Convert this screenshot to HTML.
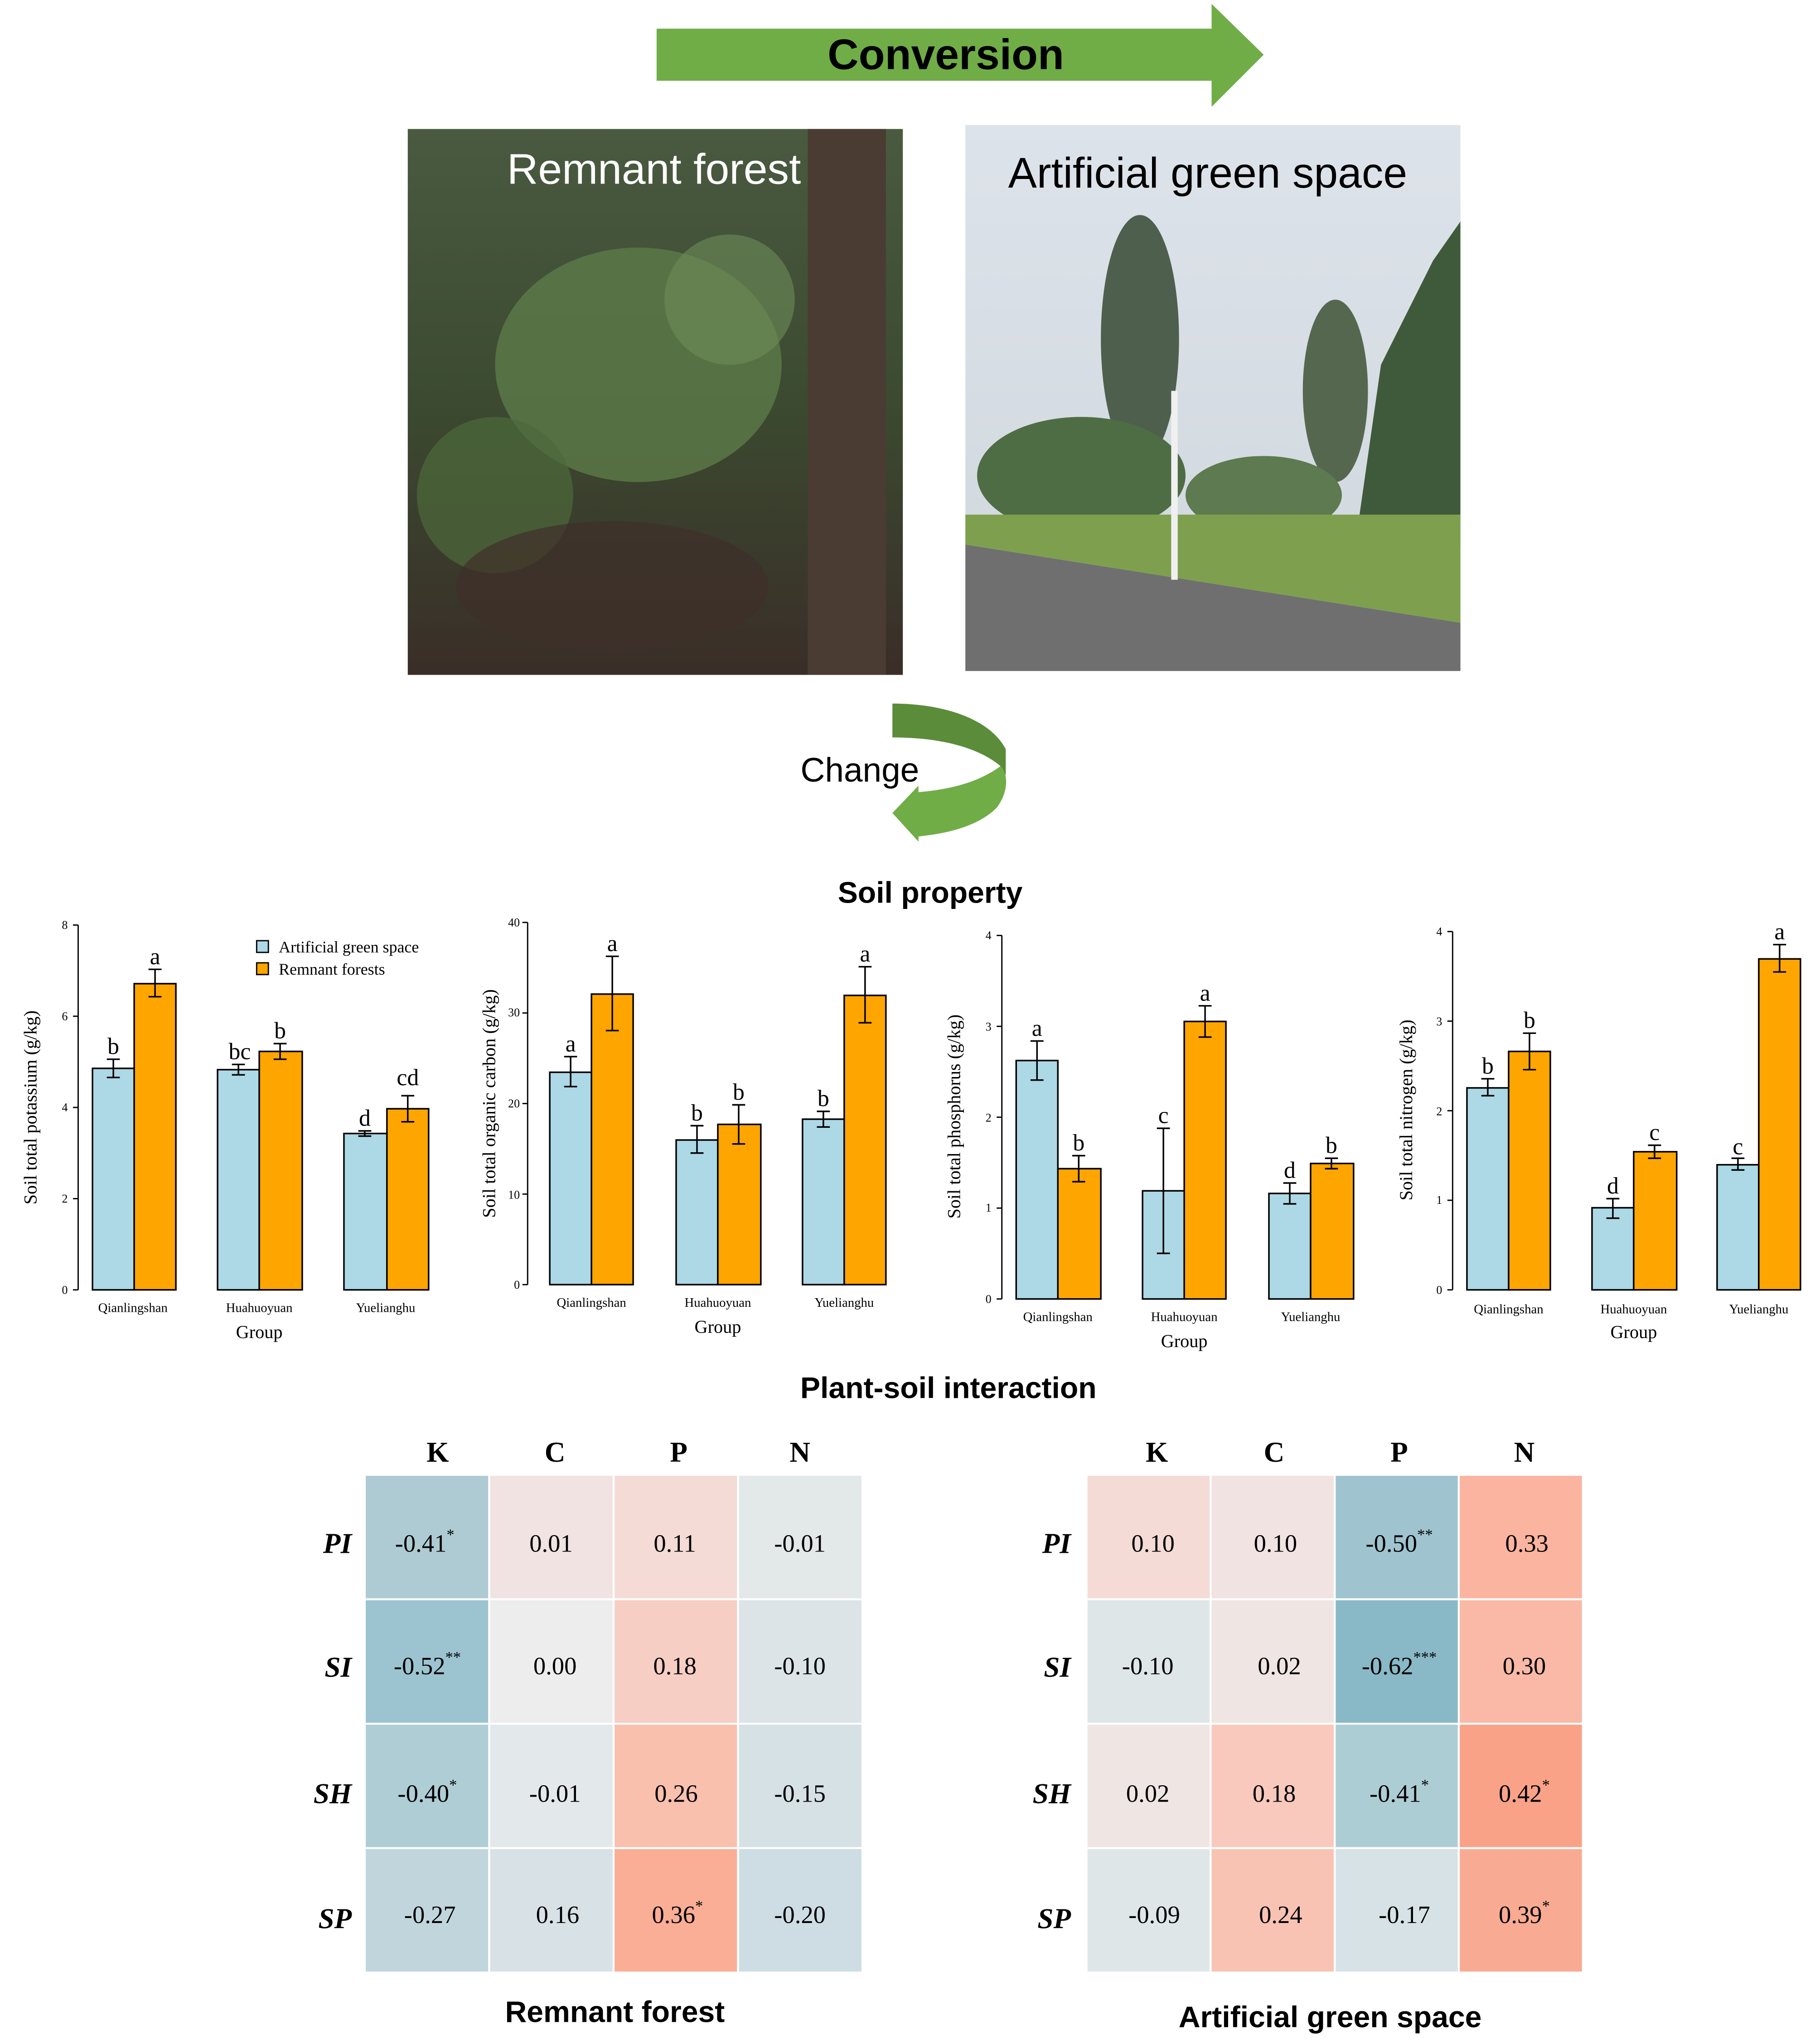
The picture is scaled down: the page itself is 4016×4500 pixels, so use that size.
<!DOCTYPE html>
<html><head><meta charset="utf-8"><style>html,body{margin:0;padding:0;background:#fff}svg{display:block}</style></head><body>
<svg xmlns="http://www.w3.org/2000/svg" width="4016" height="4500" viewBox="0 0 1397 1565" preserveAspectRatio="none">
<rect width="1397" height="1565" fill="#fff"/>
<polygon points="504,22 930,22 930,3 970,42 930,82 930,62 504,62" fill="#70ad47"/>
<text x="726" y="53" font-family="Liberation Sans, sans-serif" font-weight="bold" font-size="33" text-anchor="middle">Conversion</text>
<defs>
<linearGradient id="f1" x1="0" y1="0" x2="0" y2="1"><stop offset="0" stop-color="#4a5a40"/><stop offset="0.5" stop-color="#3b4a30"/><stop offset="1" stop-color="#3a2e28"/></linearGradient>
<linearGradient id="sky" x1="0" y1="0" x2="0" y2="1"><stop offset="0" stop-color="#dde3ea"/><stop offset="1" stop-color="#cfd6dc"/></linearGradient>
</defs>
<rect x="313" y="99" width="380" height="419" fill="url(#f1)"/>
<rect x="620" y="99" width="60" height="419" fill="#4a3c32"/>
<ellipse cx="490" cy="280" rx="110" ry="90" fill="#5c7a48" opacity="0.8"/>
<ellipse cx="380" cy="380" rx="60" ry="60" fill="#4d6a3a" opacity="0.7"/>
<ellipse cx="560" cy="230" rx="50" ry="50" fill="#6e8c58" opacity="0.6"/>
<ellipse cx="470" cy="450" rx="120" ry="50" fill="#3e2f29" opacity="0.7"/>
<text x="502" y="141" font-family="Liberation Sans, sans-serif" font-size="33" fill="#fff" text-anchor="middle">Remnant forest</text>
<rect x="741" y="96" width="380" height="419" fill="url(#sky)"/>
<ellipse cx="875" cy="260" rx="30" ry="95" fill="#4f5f4e"/>
<ellipse cx="1025" cy="300" rx="25" ry="70" fill="#55684f"/>
<polygon points="1121,170 1121,420 1040,420 1060,280 1100,200" fill="#3f5a3a"/>
<ellipse cx="830" cy="365" rx="80" ry="45" fill="#4e6d44"/>
<ellipse cx="970" cy="380" rx="60" ry="30" fill="#5d7a50"/>
<polygon points="741,395 1121,395 1121,478 741,418" fill="#7ea04e"/>
<polygon points="741,418 1121,478 1121,515 741,515" fill="#6f6f70"/>
<rect x="899" y="300" width="5" height="145" fill="#f0f0f0"/>
<text x="927" y="144" font-family="Liberation Sans, sans-serif" font-size="33" fill="#000" text-anchor="middle">Artificial green space</text>
<path d="M685,540 L685,566 C720,566 750,573 768,588 L772,595 L772,575 C760,552 725,540 685,540 Z" fill="#5b8c3a"/>
<path d="M768,588 C775,595 773,610 765,620 C750,635 725,640 705,642 L705,646 L685,624 L705,603 L705,608 C730,606 752,600 768,588 Z" fill="#70ad47"/>
<text x="660" y="600" font-family="Liberation Sans, sans-serif" font-size="26" text-anchor="middle">Change</text>
<text x="714" y="693" font-family="Liberation Sans, sans-serif" font-weight="bold" font-size="23" text-anchor="middle">Soil property</text>

<g font-family="Liberation Serif, serif" stroke-width="1">
<g>
<line x1="60" y1="710" x2="60" y2="990" stroke="#000"/>
<g stroke="#000"><line x1="56" y1="710" x2="60" y2="710"/><line x1="56" y1="780" x2="60" y2="780"/><line x1="56" y1="850" x2="60" y2="850"/><line x1="56" y1="920" x2="60" y2="920"/><line x1="56" y1="990" x2="60" y2="990"/></g>
<g font-size="9" text-anchor="end"><text x="52" y="713">8</text><text x="52" y="783">6</text><text x="52" y="853">4</text><text x="52" y="923">2</text><text x="52" y="993">0</text></g>
<text transform="translate(28,850) rotate(-90)" font-size="14" text-anchor="middle">Soil total potassium (g/kg)</text>
<g stroke="#000" stroke-width="1.2">
<rect x="71" y="820" width="32" height="170" fill="#add8e6"/><rect x="103" y="755" width="32" height="235" fill="#ffa500"/>
<rect x="167" y="821" width="32" height="169" fill="#add8e6"/><rect x="199" y="807" width="33" height="183" fill="#ffa500"/>
<rect x="264" y="870" width="33" height="120" fill="#add8e6"/><rect x="297" y="851" width="32" height="139" fill="#ffa500"/>
<path d="M87,813V827M82,813H92M82,827H92 M119,744V765M114,744H124M114,765H124 M183,817V825M178,817H188M178,825H188 M215,801V813M210,801H220M210,813H220 M280,868V872M275,868H285M275,872H285 M313,841V861M308,841H318M308,861H318" fill="none"/>
</g>
<g font-size="18" text-anchor="middle"><text x="87" y="809">b</text><text x="119" y="740">a</text><text x="184" y="813">bc</text><text x="215" y="797">b</text><text x="280" y="864">d</text><text x="313" y="833">cd</text></g>
<g font-size="10" text-anchor="middle"><text x="102" y="1007">Qianlingshan</text><text x="199" y="1007">Huahuoyuan</text><text x="296" y="1007">Yuelianghu</text></g>
<text x="199" y="1027" font-size="14" text-anchor="middle">Group</text>
<rect x="197" y="722" width="9" height="9" fill="#add8e6" stroke="#000"/><rect x="197" y="739" width="9" height="9" fill="#ffa500" stroke="#000"/>
<text x="214" y="731" font-size="12.5">Artificial green space</text><text x="214" y="748" font-size="12.5">Remnant forests</text>
</g>
<g>
<line x1="405" y1="708" x2="405" y2="986" stroke="#000"/>
<g stroke="#000"><line x1="401" y1="708" x2="405" y2="708"/><line x1="401" y1="777.5" x2="405" y2="777.5"/><line x1="401" y1="847" x2="405" y2="847"/><line x1="401" y1="916.5" x2="405" y2="916.5"/><line x1="401" y1="986" x2="405" y2="986"/></g>
<g font-size="9" text-anchor="end"><text x="399" y="711">40</text><text x="399" y="780">30</text><text x="399" y="850">20</text><text x="399" y="920">10</text><text x="399" y="989">0</text></g>
<text transform="translate(380,847) rotate(-90)" font-size="14" text-anchor="middle">Soil total organic carbon (g/kg)</text>
<g stroke="#000" stroke-width="1.2">
<rect x="422" y="823" width="32" height="163" fill="#add8e6"/><rect x="454" y="763" width="32" height="223" fill="#ffa500"/>
<rect x="519" y="875" width="32" height="111" fill="#add8e6"/><rect x="551" y="863" width="33" height="123" fill="#ffa500"/>
<rect x="616" y="859" width="32" height="127" fill="#add8e6"/><rect x="648" y="764" width="32" height="222" fill="#ffa500"/>
<path d="M438,811V834M433,811H443M433,834H443 M470,734V791M465,734H475M465,791H475 M535,864V885M530,864H540M530,885H540 M567,848V878M562,848H572M562,878H572 M632,853V865M627,853H637M627,865H637 M664,742V785M659,742H669M659,785H669" fill="none"/>
</g>
<g font-size="18" text-anchor="middle"><text x="438" y="807">a</text><text x="470" y="730">a</text><text x="535" y="860">b</text><text x="567" y="844">b</text><text x="632" y="849">b</text><text x="664" y="738">a</text></g>
<g font-size="10" text-anchor="middle"><text x="454" y="1003">Qianlingshan</text><text x="551" y="1003">Huahuoyuan</text><text x="648" y="1003">Yuelianghu</text></g>
<text x="551" y="1023" font-size="14" text-anchor="middle">Group</text>
</g>
<g>
<line x1="769" y1="718" x2="769" y2="997" stroke="#000"/>
<g stroke="#000"><line x1="765" y1="718" x2="769" y2="718"/><line x1="765" y1="787.75" x2="769" y2="787.75"/><line x1="765" y1="857.5" x2="769" y2="857.5"/><line x1="765" y1="927.25" x2="769" y2="927.25"/><line x1="765" y1="997" x2="769" y2="997"/></g>
<g font-size="9" text-anchor="end"><text x="761" y="721">4</text><text x="761" y="791">3</text><text x="761" y="861">2</text><text x="761" y="930">1</text><text x="761" y="1000">0</text></g>
<text transform="translate(737,857) rotate(-90)" font-size="14" text-anchor="middle">Soil total phosphorus (g/kg)</text>
<g stroke="#000" stroke-width="1.2">
<rect x="780" y="814" width="32" height="183" fill="#add8e6"/><rect x="812" y="897" width="33" height="100" fill="#ffa500"/>
<rect x="877" y="914" width="32" height="83" fill="#add8e6"/><rect x="909" y="784" width="32" height="213" fill="#ffa500"/>
<rect x="974" y="916" width="32" height="81" fill="#add8e6"/><rect x="1006" y="893" width="33" height="104" fill="#ffa500"/>
<path d="M796,799V829M791,799H801M791,829H801 M828,887V907M823,887H833M823,907H833 M893,866V962M888,866H898M888,962H898 M925,772V796M920,772H930M920,796H930 M990,908V924M985,908H995M985,924H995 M1022,889V897M1017,889H1027M1017,897H1027" fill="none"/>
</g>
<g font-size="18" text-anchor="middle"><text x="796" y="795">a</text><text x="828" y="883">b</text><text x="893" y="862">c</text><text x="925" y="768">a</text><text x="990" y="904">d</text><text x="1022" y="885">b</text></g>
<g font-size="10" text-anchor="middle"><text x="812" y="1014">Qianlingshan</text><text x="909" y="1014">Huahuoyuan</text><text x="1006" y="1014">Yuelianghu</text></g>
<text x="909" y="1034" font-size="14" text-anchor="middle">Group</text>
</g>
<g>
<line x1="1115" y1="715" x2="1115" y2="990" stroke="#000"/>
<g stroke="#000"><line x1="1111" y1="715" x2="1115" y2="715"/><line x1="1111" y1="783.75" x2="1115" y2="783.75"/><line x1="1111" y1="852.5" x2="1115" y2="852.5"/><line x1="1111" y1="921.25" x2="1115" y2="921.25"/><line x1="1111" y1="990" x2="1115" y2="990"/></g>
<g font-size="9" text-anchor="end"><text x="1107" y="718">4</text><text x="1107" y="787">3</text><text x="1107" y="856">2</text><text x="1107" y="924">1</text><text x="1107" y="993">0</text></g>
<text transform="translate(1084,852) rotate(-90)" font-size="14" text-anchor="middle">Soil total nitrogen (g/kg)</text>
<g stroke="#000" stroke-width="1.2">
<rect x="1126" y="835" width="32" height="155" fill="#add8e6"/><rect x="1158" y="807" width="32" height="183" fill="#ffa500"/>
<rect x="1222" y="927" width="32" height="63" fill="#add8e6"/><rect x="1254" y="884" width="33" height="106" fill="#ffa500"/>
<rect x="1318" y="894" width="32" height="96" fill="#add8e6"/><rect x="1350" y="736" width="32" height="254" fill="#ffa500"/>
<path d="M1142,828V841M1137,828H1147M1137,841H1147 M1174,793V821M1169,793H1179M1169,821H1179 M1238,920V935M1233,920H1243M1233,935H1243 M1270,879V889M1265,879H1275M1265,889H1275 M1334,889V898M1329,889H1339M1329,898H1339 M1366,725V746M1361,725H1371M1361,746H1371" fill="none"/>
</g>
<g font-size="18" text-anchor="middle"><text x="1142" y="824">b</text><text x="1174" y="789">b</text><text x="1238" y="916">d</text><text x="1270" y="875">c</text><text x="1334" y="886">c</text><text x="1366" y="721">a</text></g>
<g font-size="10" text-anchor="middle"><text x="1158" y="1008">Qianlingshan</text><text x="1254" y="1008">Huahuoyuan</text><text x="1350" y="1008">Yuelianghu</text></g>
<text x="1254" y="1027" font-size="14" text-anchor="middle">Group</text>
</g>
</g>

<text x="728" y="1073" font-family="Liberation Sans, sans-serif" font-weight="bold" font-size="23" text-anchor="middle">Plant-soil interaction</text>

<g stroke="#fff" stroke-width="1.5">
<rect x="280" y="1132" width="95.5" height="95.5" fill="#aecbd3"/><rect x="375.5" y="1132" width="95.5" height="95.5" fill="#f0e3e1"/><rect x="471" y="1132" width="95.5" height="95.5" fill="#f4dbd5"/><rect x="566.5" y="1132" width="95.5" height="95.5" fill="#e3e8e9"/>
<rect x="280" y="1227.5" width="95.5" height="95.5" fill="#9cc4d0"/><rect x="375.5" y="1227.5" width="95.5" height="95.5" fill="#ededed"/><rect x="471" y="1227.5" width="95.5" height="95.5" fill="#f6cec4"/><rect x="566.5" y="1227.5" width="95.5" height="95.5" fill="#dce4e7"/>
<rect x="280" y="1323" width="95.5" height="95.5" fill="#afcdd5"/><rect x="375.5" y="1323" width="95.5" height="95.5" fill="#e3e8ea"/><rect x="471" y="1323" width="95.5" height="95.5" fill="#f9c0ae"/><rect x="566.5" y="1323" width="95.5" height="95.5" fill="#d6e1e6"/>
<rect x="280" y="1418.5" width="95.5" height="95.5" fill="#c1d6dc"/><rect x="375.5" y="1418.5" width="95.5" height="95.5" fill="#d8e2e6"/><rect x="471" y="1418.5" width="95.5" height="95.5" fill="#f9ae95"/><rect x="566.5" y="1418.5" width="95.5" height="95.5" fill="#cddde3"/>
</g>
<g stroke="#fff" stroke-width="1.5">
<rect x="834" y="1132" width="95.25" height="95.5" fill="#f4dbd5"/><rect x="929.25" y="1132" width="95.25" height="95.5" fill="#f0e3e1"/><rect x="1024.5" y="1132" width="95.25" height="95.5" fill="#9fc4cf"/><rect x="1119.75" y="1132" width="95.25" height="95.5" fill="#fbb49f"/>
<rect x="834" y="1227.5" width="95.25" height="95.5" fill="#dfe6e8"/><rect x="929.25" y="1227.5" width="95.25" height="95.5" fill="#efe5e3"/><rect x="1024.5" y="1227.5" width="95.25" height="95.5" fill="#89b9c7"/><rect x="1119.75" y="1227.5" width="95.25" height="95.5" fill="#f9b9a6"/>
<rect x="834" y="1323" width="95.25" height="95.5" fill="#efe5e3"/><rect x="929.25" y="1323" width="95.25" height="95.5" fill="#f8c9bc"/><rect x="1024.5" y="1323" width="95.25" height="95.5" fill="#adcdd5"/><rect x="1119.75" y="1323" width="95.25" height="95.5" fill="#f9a287"/>
<rect x="834" y="1418.5" width="95.25" height="95.5" fill="#dfe6e8"/><rect x="929.25" y="1418.5" width="95.25" height="95.5" fill="#f9c3b3"/><rect x="1024.5" y="1418.5" width="95.25" height="95.5" fill="#d6e2e6"/><rect x="1119.75" y="1418.5" width="95.25" height="95.5" fill="#f8ab92"/>
</g>
<g font-family="Liberation Serif, serif" font-size="19" text-anchor="middle">
<g font-weight="bold" font-size="22"><text x="336" y="1122">K</text><text x="426" y="1122">C</text><text x="521" y="1122">P</text><text x="614" y="1122">N</text>
<text x="888" y="1122">K</text><text x="978" y="1122">C</text><text x="1074" y="1122">P</text><text x="1170" y="1122">N</text></g>
<g font-weight="bold" font-style="italic" font-size="22" text-anchor="end"><text x="270" y="1192">PI</text><text x="270" y="1287">SI</text><text x="270" y="1384">SH</text><text x="270" y="1480">SP</text>
<text x="822" y="1192">PI</text><text x="822" y="1287">SI</text><text x="822" y="1384">SH</text><text x="822" y="1480">SP</text></g>
<text x="326" y="1191">-0.41<tspan font-size="12" dy="-9">*</tspan></text><text x="423" y="1191">0.01</text><text x="518" y="1191">0.11</text><text x="614" y="1191">-0.01</text>
<text x="328" y="1285">-0.52<tspan font-size="12" dy="-9">**</tspan></text><text x="426" y="1285">0.00</text><text x="518" y="1285">0.18</text><text x="614" y="1285">-0.10</text>
<text x="328" y="1383">-0.40<tspan font-size="12" dy="-9">*</tspan></text><text x="426" y="1383">-0.01</text><text x="519" y="1383">0.26</text><text x="614" y="1383">-0.15</text>
<text x="330" y="1476">-0.27</text><text x="428" y="1476">0.16</text><text x="520" y="1476">0.36<tspan font-size="12" dy="-9">*</tspan></text><text x="614" y="1476">-0.20</text>
<text x="885" y="1191">0.10</text><text x="979" y="1191">0.10</text><text x="1074" y="1191">-0.50<tspan font-size="12" dy="-9">**</tspan></text><text x="1172" y="1191">0.33</text>
<text x="881" y="1285">-0.10</text><text x="982" y="1285">0.02</text><text x="1074" y="1285">-0.62<tspan font-size="12" dy="-9">***</tspan></text><text x="1170" y="1285">0.30</text>
<text x="881" y="1383">0.02</text><text x="978" y="1383">0.18</text><text x="1074" y="1383">-0.41<tspan font-size="12" dy="-9">*</tspan></text><text x="1170" y="1383">0.42<tspan font-size="12" dy="-9">*</tspan></text>
<text x="886" y="1476">-0.09</text><text x="983" y="1476">0.24</text><text x="1078" y="1476">-0.17</text><text x="1170" y="1476">0.39<tspan font-size="12" dy="-9">*</tspan></text>
</g>
<g font-family="Liberation Sans, sans-serif" font-weight="bold" font-size="23" text-anchor="middle">
<text x="472" y="1552">Remnant forest</text><text x="1021" y="1556">Artificial green space</text>
</g>
</svg>
</body></html>
